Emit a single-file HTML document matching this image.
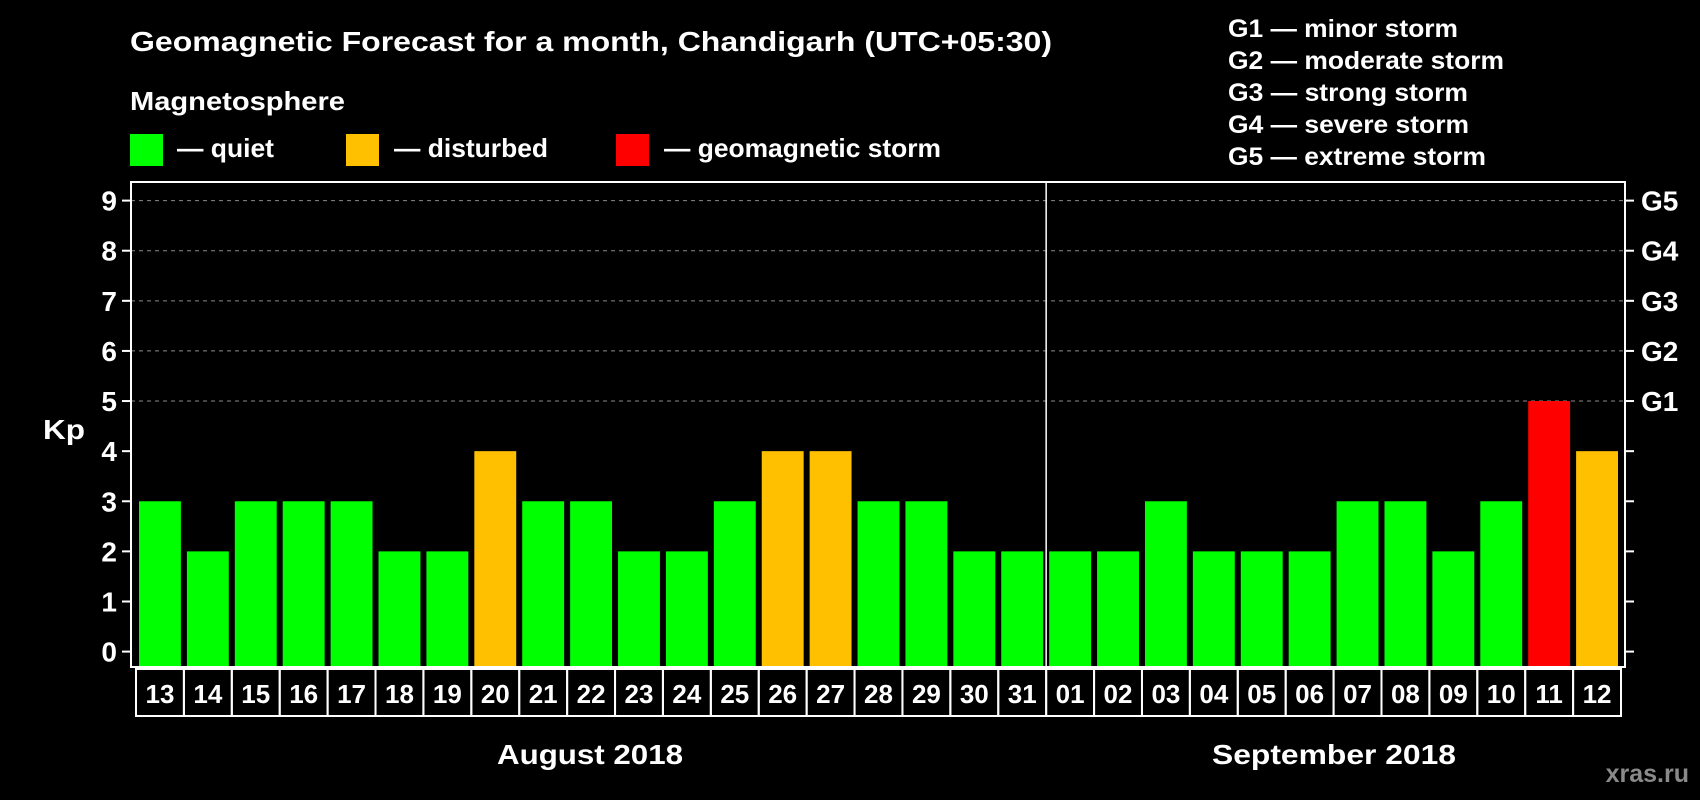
<!DOCTYPE html>
<html><head><meta charset="utf-8"><style>
html,body{margin:0;padding:0;background:#000;}
svg{display:block;font-family:"Liberation Sans",Arial,sans-serif;font-weight:bold;}
</style></head><body>
<svg id="chart" width="1700" height="800" viewBox="0 0 1700 800">
<rect x="0" y="0" width="1700" height="800" fill="#000"/>
<text x="130" y="51" fill="#fff" font-size="28" textLength="922" lengthAdjust="spacingAndGlyphs">Geomagnetic Forecast for a month, Chandigarh (UTC+05:30)</text>
<text x="130" y="110" fill="#fff" font-size="26" textLength="215" lengthAdjust="spacingAndGlyphs">Magnetosphere</text>
<rect x="130" y="134" width="33" height="32" fill="#00ff00"/>
<text x="177" y="157" fill="#fff" font-size="26" textLength="97" lengthAdjust="spacingAndGlyphs">— quiet</text>
<rect x="346" y="134" width="33" height="32" fill="#ffc000"/>
<text x="394" y="157" fill="#fff" font-size="26" textLength="154" lengthAdjust="spacingAndGlyphs">— disturbed</text>
<rect x="616" y="134" width="33" height="32" fill="#ff0000"/>
<text x="664" y="157" fill="#fff" font-size="26" textLength="277" lengthAdjust="spacingAndGlyphs">— geomagnetic storm</text>
<g font-size="25" fill="#fff">
<text x="1228" y="37" textLength="230" lengthAdjust="spacingAndGlyphs">G1 — minor storm</text>
<text x="1228" y="69" textLength="276" lengthAdjust="spacingAndGlyphs">G2 — moderate storm</text>
<text x="1228" y="101" textLength="240" lengthAdjust="spacingAndGlyphs">G3 — strong storm</text>
<text x="1228" y="133" textLength="241" lengthAdjust="spacingAndGlyphs">G4 — severe storm</text>
<text x="1228" y="165" textLength="258" lengthAdjust="spacingAndGlyphs">G5 — extreme storm</text>
</g>
<text x="43" y="439" fill="#fff" font-size="28" textLength="42" lengthAdjust="spacingAndGlyphs">Kp</text>
<text x="590" y="764" fill="#fff" font-size="28" text-anchor="middle" textLength="186" lengthAdjust="spacingAndGlyphs">August 2018</text>
<text x="1334" y="764" fill="#fff" font-size="28" text-anchor="middle" textLength="244" lengthAdjust="spacingAndGlyphs">September 2018</text>
<text x="1689" y="782" fill="#8a8a8a" font-size="25" text-anchor="end">xras.ru</text>
<g id="plot"></g>
</svg>
<script>
const days = ["13","14","15","16","17","18","19","20","21","22","23","24","25","26","27","28","29","30","31","01","02","03","04","05","06","07","08","09","10","11","12"];
const kp = [3,2,3,3,3,2,2,4,3,3,2,2,3,4,4,3,3,2,2,2,2,3,2,2,2,3,3,2,3,5,4];
const yTicks = [0,1,2,3,4,5,6,7,8,9];
const gLabels = ["G1","G2","G3","G4","G5"];
const gLevels = [5,6,7,8,9];
const monthSplitIndex = 19;

const NS="http://www.w3.org/2000/svg";
const plot=document.getElementById('plot');
const L=131,R=1625,T=182,B=667,X0=136,STEP=(1621-136)/days.length;
const y0=651.6,unit=(651.6-200.6)/9;
function yS(v){return y0-v*unit;}
function xS(i){return X0+i*STEP;}
function mk(tag,attrs){const e=document.createElementNS(NS,tag);for(const k in attrs)e.setAttribute(k,attrs[k]);plot.appendChild(e);return e;}

yTicks.forEach(v=>{
  const y=yS(v);
  if(v>=5){const g=mk('line',{x1:L,x2:R,y1:y,y2:y,stroke:'#8c8c8c','stroke-width':1,'stroke-dasharray':'4,4'});
  
  }
  const t=mk('line',{x1:L-9,x2:L,y1:y,y2:y,stroke:'#fff','stroke-width':2});
  
  
  const t2=mk('line',{x1:R,x2:R+9,y1:y,y2:y,stroke:'#fff','stroke-width':2});
  
  
  const lb=mk('text',{x:117,y:y+10,fill:'#fff','font-size':28,'text-anchor':'end'});
  lb.textContent=v;
  
  
});
gLabels.forEach((g,i)=>{
  const t=mk('text',{x:1641,y:yS(gLevels[i])+10,fill:'#fff','font-size':28});
  t.textContent=g;
  
  
});
kp.forEach((v,i)=>{
  const c=v>=5?'#ff0000':(v>=4?'#ffc000':'#00ff00');
  const b=mk('rect',{x:xS(i)+3,y:yS(v),width:STEP-6,height:B-yS(v),fill:c});
  
  
  const cell=mk('rect',{x:xS(i),y:B+2,width:STEP,height:47,fill:'none',stroke:'#fff','stroke-width':2});
  
  
  const t=mk('text',{x:xS(i)+STEP/2,y:703,fill:'#fff','font-size':26,'text-anchor':'middle'});
  t.textContent=days[i];
  
  
});
const sp=mk('line',{x1:xS(monthSplitIndex),x2:xS(monthSplitIndex),y1:T,y2:B,stroke:'#fff','stroke-width':1.5});


const fr=mk('rect',{x:L,y:T,width:R-L,height:B-T,fill:'none',stroke:'#fff','stroke-width':2});


</script>
</body></html>
